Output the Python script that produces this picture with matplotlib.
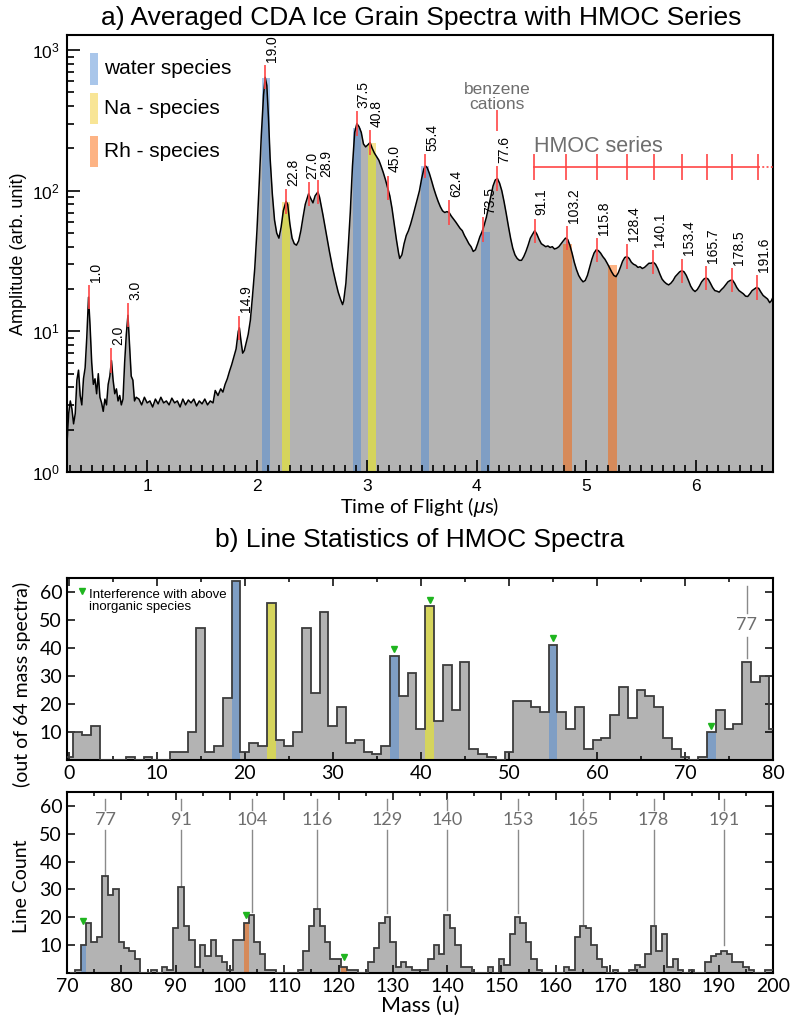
import numpy as np
import matplotlib
matplotlib.use("Agg")
import matplotlib.pyplot as plt
from matplotlib.patches import Rectangle
from matplotlib.ticker import MultipleLocator, FixedLocator, LogLocator, NullFormatter

plt.rcParams['font.family'] = ['Liberation Sans', 'DejaVu Sans']
plt.rcParams['mathtext.fontset'] = 'custom'
plt.rcParams['mathtext.rm'] = 'Liberation Sans'
plt.rcParams['mathtext.it'] = 'Liberation Sans:italic'

# ---------------- panel a: averaged spectrum ----------------
tof = [
    0.27, 0.285, 0.30, 0.315, 0.33, 0.345, 0.36, 0.375, 0.39, 0.405,
    0.42, 0.435, 0.45, 0.466, 0.48, 0.495, 0.51, 0.525, 0.54, 0.555,
    0.57, 0.585, 0.60, 0.615, 0.63, 0.645, 0.66, 0.675, 0.69, 0.705,
    0.72, 0.735, 0.75, 0.765, 0.78, 0.795, 0.81, 0.825, 0.84, 0.855,
    0.87, 0.885, 0.90,
    0.925, 0.95, 0.975, 1.00, 1.025, 1.05, 1.075, 1.10, 1.125, 1.15,
    1.175, 1.20, 1.225, 1.25, 1.275, 1.30, 1.325, 1.35, 1.375, 1.40,
    1.425, 1.45, 1.475, 1.50, 1.525, 1.55, 1.575, 1.60,
    1.62, 1.645, 1.67, 1.69, 1.71, 1.73, 1.75, 1.77, 1.79, 1.81,
    1.83, 1.84, 1.855, 1.87, 1.885, 1.90, 1.92, 1.94, 1.96, 1.98,
    2.00, 2.02, 2.04, 2.06, 2.075, 2.09, 2.105, 2.12, 2.14, 2.16,
    2.18, 2.20, 2.22, 2.24, 2.265, 2.28, 2.30, 2.32, 2.34, 2.36,
    2.38, 2.40, 2.42, 2.44, 2.47, 2.49, 2.51, 2.53, 2.555, 2.57,
    2.60, 2.63, 2.66, 2.69, 2.72, 2.74, 2.76, 2.78, 2.79, 2.81,
    2.83, 2.85, 2.87, 2.89, 2.91, 2.93, 2.95, 2.97, 2.99, 3.01,
    3.03, 3.05, 3.07, 3.09, 3.11, 3.13, 3.15, 3.17, 3.19, 3.21,
    3.23, 3.25, 3.27, 3.29, 3.30, 3.32, 3.34, 3.36, 3.38, 3.40,
    3.42, 3.44, 3.46, 3.48, 3.50, 3.52, 3.535, 3.55, 3.57, 3.59,
    3.61, 3.63, 3.65, 3.67, 3.69, 3.71, 3.73, 3.75, 3.77, 3.79,
    3.81, 3.83, 3.85, 3.87, 3.89, 3.91, 3.93, 3.95, 3.97, 3.99,
    4.01, 4.03, 4.05, 4.07, 4.09, 4.11, 4.13, 4.15, 4.17, 4.19,
    4.21, 4.23, 4.25, 4.27, 4.29, 4.31, 4.33, 4.35, 4.37, 4.39,
    4.41, 4.43, 4.45, 4.47, 4.49, 4.51, 4.53, 4.55, 4.57, 4.59,
    4.61, 4.63, 4.65, 4.67, 4.69, 4.71, 4.73, 4.75, 4.77, 4.79,
    4.81, 4.83, 4.85, 4.87, 4.89, 4.91, 4.93, 4.95, 4.97, 4.99,
    5.01, 5.03, 5.05, 5.07, 5.09, 5.11, 5.13, 5.15, 5.17, 5.19,
    5.21, 5.23, 5.25, 5.27, 5.29, 5.31, 5.33, 5.35, 5.37, 5.39,
    5.41, 5.43, 5.45, 5.47, 5.49, 5.51, 5.53, 5.55, 5.57, 5.59,
    5.61, 5.63, 5.65, 5.67, 5.69, 5.71, 5.73, 5.75, 5.77, 5.79,
    5.81, 5.83, 5.85, 5.87, 5.89, 5.91, 5.93, 5.95, 5.97, 5.99,
    6.01, 6.03, 6.05, 6.07, 6.09, 6.11, 6.13, 6.15, 6.17, 6.19,
    6.21, 6.23, 6.25, 6.27, 6.29, 6.31, 6.33, 6.35, 6.37, 6.39,
    6.41, 6.43, 6.45, 6.47, 6.49, 6.51, 6.53, 6.55, 6.57, 6.59,
    6.61, 6.63, 6.65, 6.67, 6.685, 6.70,
]
amp = [
    1.6, 2.6, 3.2, 2.8, 2.2, 2.6, 4.5, 5.3, 3.5, 3.0,
    4.6, 5.5, 9.0, 17.5, 11.0, 6.0, 4.2, 4.6, 3.6, 5.0,
    3.4, 3.1, 2.7, 3.3, 3.0, 4.2, 4.8, 6.2, 4.5, 3.6,
    3.9, 3.2, 3.5, 3.0, 3.3, 6.0, 9.5, 13.0, 8.0, 4.8,
    4.5, 3.2, 3.4,
    3.3, 3.0, 3.4, 3.1, 3.2, 2.9, 3.3, 3.05, 3.4, 3.1,
    3.2, 3.0, 3.35, 3.1, 3.2, 2.9, 3.3, 3.0, 3.25, 3.1,
    3.3, 2.95, 3.2, 3.05, 3.3, 3.0, 3.2, 3.1,
    3.8, 3.5, 3.9, 3.7, 4.2, 4.6, 5.2, 5.8, 6.6, 7.5,
    10.0, 10.6, 8.5, 7.0, 7.3, 8.2, 9.5, 12.0, 18.0, 28.0,
    52, 110, 250, 480, 640, 560, 330, 170, 95, 62,
    50, 46, 55, 72, 84, 80, 58, 46, 42, 41,
    44, 52, 65, 80, 95, 88, 82, 92, 98, 90,
    68, 50, 37, 28, 22, 19, 17, 15.5, 16.5, 22,
    38, 70, 150, 260, 300, 285, 260, 215, 205, 212,
    220, 200, 185, 175, 165, 150, 135, 120, 105, 92,
    75, 58, 45, 36, 33, 35, 42, 48, 52, 58,
    66, 76, 87, 100, 122, 143, 150, 146, 133, 118,
    104, 93, 84, 77, 72, 70, 71, 70, 66, 63,
    60, 57, 54, 52, 48, 45, 42, 40, 37, 38,
    42, 47, 51, 57, 65, 77, 92, 108, 119, 122,
    113, 100, 84, 69, 56, 46, 39, 35, 33, 32,
    32, 34, 37, 41, 46, 49, 52, 49, 45, 42,
    41, 40, 40.5, 39.5, 40, 38.5, 39, 40, 42, 44,
    46, 45, 41, 36, 31, 27.5, 25, 23.5, 22.5, 23,
    25, 28.5, 32.5, 36, 38, 37.5, 36, 34, 32.5, 30.5,
    28.5, 26.5, 25, 24.5, 26, 28.5, 31.5, 33.5, 34, 33,
    31, 30, 29.5, 28.5, 28.8, 28, 28.5, 29.5, 30.5, 30.5,
    31, 30, 28, 25.5, 23.5, 22.5, 21.8, 21.4, 22, 23,
    24.5, 25.5, 26.5, 27, 26.5, 25, 23, 21, 19.8, 19.2,
    19.8, 21, 22.5, 23.5, 24, 23.5, 22, 20.5, 19.5, 19.3,
    19, 19.8, 20.5, 21.5, 22.5, 23, 23.2, 22, 20.5, 19.5,
    19, 18.5, 17.8, 17.7, 18.5, 19.5, 20, 20.5, 20.2, 19,
    18, 17.5, 17, 16, 16.5, 17.5,
]

peak_labels = ["1.0", "2.0", "3.0", "14.9", "19.0", "22.8", "27.0", "28.9", "37.5",
               "40.8", "45.0", "55.4", "62.4", "73.5", "77.6", "91.1", "103.2",
               "115.8", "128.4", "140.1", "153.4", "165.7", "178.5", "191.6"]
peak_tof = [0.466, 0.675, 0.825, 1.84, 2.075, 2.265, 2.47, 2.555, 2.91,
            3.03, 3.19, 3.535, 3.75, 4.06, 4.19, 4.53, 4.82,
            5.10, 5.37, 5.61, 5.87, 6.09, 6.33, 6.55]
peak_amp = [17.5, 6.2, 13.0, 10.6, 640, 84, 95, 98, 300,
            220, 105, 150, 70, 53, 122, 52, 46,
            38, 34, 31, 27, 24, 23.2, 20.5]

# species bands: left edge in TOF and top amplitude
water_start = [2.043, 2.875, 3.49, 4.043]
water_top = [630, 280, 150, 51]
na_start = [2.23, 3.012]
na_top = [83, 219]
rh_start = [4.79, 5.20]
rh_top = [42, 29.5]
band_width = 0.075

hmoc_tof = [4.527, 4.818, 5.10, 5.373, 5.618, 5.873, 6.10, 6.327, 6.564]
hmoc_level = 147.6
benzene_tof = 4.19

# ---------------- panel b: line statistics histograms ----------------
mass_top = list(range(0, 81))
count_top = [1, 10, 9, 12, 0, 0, 0, 1, 0, 1,
             0, 0, 3, 3, 10, 47, 3, 5, 22, 64,
             3, 6, 5, 56, 7, 5, 10, 47, 24, 53,
             12, 19, 6, 7, 3, 2, 5, 37, 23, 31,
             11, 55, 14, 34, 18, 35, 4, 2, 1, 0,
             3, 21, 21, 19, 17, 41, 17, 11, 19, 4,
             7, 8, 16, 26, 15, 25, 23, 19, 8, 4,
             1, 0, 1, 10, 18, 11, 13, 35, 28, 30,
             11]

mass_bot = list(range(71, 201))
count_bot = [0, 1, 10, 18, 11, 13, 35, 28, 30, 11,
             9, 8, 5, 0, 0, 1, 0, 2, 1, 16,
             31, 17, 12, 2, 10, 6, 12, 6, 4, 1,
             12, 12, 18, 21, 11, 7, 1, 1, 0, 0,
             0, 0, 1, 8, 17, 23, 17, 11, 5, 5,
             2, 1, 1, 0, 0, 4, 9, 18, 20, 11,
             2, 4, 2, 1, 1, 1, 5, 10, 7, 21,
             16, 10, 2, 2, 0, 0, 0, 2, 0, 5,
             3, 14, 20, 18, 11, 5, 1, 0, 0, 0,
             0, 2, 1, 13, 17, 16, 10, 5, 2, 0,
             1, 0, 0, 1, 3, 2, 7, 17, 8, 14,
             2, 5, 1, 0, 1, 0, 0, 4, 6, 7,
             8, 7, 4, 4, 2, 1, 0, 0, 1, 1]

water_mass_top = [19, 37, 55, 73]
na_mass_top = [23, 41]
water_mass_bot = [73]
rh_mass_bot = [103, 121]

interf_mass_top = [37, 41, 55, 73]
interf_y_top = [39.5, 57, 43.5, 12.3]
interf_mass_bot = [73, 103, 121]
interf_y_bot = [18.5, 21, 5.6]

series_mass = [77, 91, 104, 116, 129, 140, 153, 165, 178, 191]
series_line_end = [35, 31, 22, 23.5, 21.5, 22.5, 21.5, 17.5, 17.5, 10]

blue_light, blue_dark = '#a9c6ea', '#7f9ec4'
yel_light, yel_dark = '#f8e596', '#d5d45c'
rh_light, rh_dark = '#fdb384', '#d68a5a'
gray_fill = '#b3b3b3'
red = '#ff4444'
label_gray = '#6e6e6e'
humanist = ['Lato', 'DejaVu Sans']

fig = plt.figure(figsize=(8, 10.29), dpi=100)
W, H = 800.0, 1029.0
ax_a = fig.add_axes([67 / W, 1 - 472 / H, 706 / W, 437 / H])
ax_b1 = fig.add_axes([67 / W, 1 - 760 / H, 706 / W, 182 / H])
ax_b2 = fig.add_axes([67 / W, 1 - 973 / H, 706 / W, 181 / H])

# ---- panel a ----
ax_a.set_yscale('log')
ax_a.set_xlim(0.27, 6.70)
ax_a.set_ylim(1, 1280)
t_arr = np.array(tof)
a_arr = np.array(amp)
spec = ax_a.fill_between(t_arr, a_arr, 1e-3, color=gray_fill, lw=0, zorder=1)
spec_path = spec.get_paths()[0]

for starts, tops, light, dark in [(water_start, water_top, blue_light, blue_dark),
                                  (na_start, na_top, yel_light, yel_dark),
                                  (rh_start, rh_top, rh_light, rh_dark)]:
    for t0, top in zip(starts, tops):
        ax_a.add_patch(Rectangle((t0, 1e-3), band_width, top, color=light, lw=0, zorder=0.5))
        r = Rectangle((t0, 1e-3), band_width, top, color=dark, lw=0, zorder=1.5)
        ax_a.add_patch(r)
        r.set_clip_path(spec_path, ax_a.transData)

ax_a.plot(t_arr, a_arr, color='black', lw=1.1, zorder=3)

# small sideways nudges where two labels sit on top of each other
label_dx = {"27.0": -2.5, "28.9": 1.0}
for lbl, t, a in zip(peak_labels, peak_tof, peak_amp):
    ax_a.plot([t, t], [a / 1.2, a * 1.2], color=red, lw=1.4, alpha=0.85, zorder=4)
    ax_a.annotate(lbl, (t, a * 1.2), xytext=(label_dx.get(lbl, 0), 3), textcoords='offset points',
                  rotation=90, ha='left', va='bottom', fontsize=10, zorder=5)

# benzene cations marker
ax_a.plot([benzene_tof, benzene_tof], [272, 369], color=red, lw=1.4, alpha=0.85, zorder=4)
ax_a.text(benzene_tof, 465, "benzene\ncations", ha='center', va='center', fontsize=12.5,
          color=label_gray, linespacing=0.95)

# HMOC series ruler
ax_a.plot([hmoc_tof[0], hmoc_tof[-1]], [hmoc_level, hmoc_level], color=red, lw=1.4, alpha=0.85, zorder=4)
ax_a.plot([hmoc_tof[-1], 6.70], [hmoc_level, hmoc_level], color=red, lw=1.4, alpha=0.85,
          ls=(0, (1, 1.2)), zorder=4)
for t in hmoc_tof:
    ax_a.plot([t, t], [hmoc_level / 1.215, hmoc_level * 1.215], color=red, lw=1.4, alpha=0.85, zorder=4)
ax_a.text(hmoc_tof[0], 207, "HMOC series", ha='left', va='center', fontsize=15.5, color=label_gray)

# species key
for (y0, y1, col, txt) in [(0.886, 0.959, blue_light, "water species"),
                           (0.796, 0.867, yel_light, "Na - species"),
                           (0.698, 0.769, rh_light, "Rh - species")]:
    ax_a.add_patch(Rectangle((0.0326, y0), 0.0115, y1 - y0, transform=ax_a.transAxes,
                             color=col, lw=0, zorder=6))
    ax_a.text(0.052, (y0 + y1) / 2, txt, transform=ax_a.transAxes, ha='left', va='center',
              fontsize=15, zorder=6)

ax_a.xaxis.set_major_locator(MultipleLocator(1))
ax_a.xaxis.set_minor_locator(MultipleLocator(0.1))
ax_a.yaxis.set_major_locator(LogLocator(base=10, numticks=10))
ax_a.yaxis.set_minor_locator(LogLocator(base=10, subs=np.arange(2, 10), numticks=20))
ax_a.yaxis.set_minor_formatter(NullFormatter())
ax_a.tick_params(which='both', direction='in', top=False, right=False, labelsize=12.5, width=1.2)
ax_a.tick_params(which='major', length=9, pad=5)
ax_a.tick_params(which='minor', length=5)
for s in ax_a.spines.values():
    s.set_linewidth(1.5)
ax_a.set_ylabel("Amplitude (arb. unit)", fontsize=13, labelpad=4)
ax_a.set_xlabel("Time of Flight ($\\mathit{\\mu}$s)", fontsize=14.5, family=humanist, labelpad=1)

fig.text(0.526, 1 - 18 / H, "a) Averaged CDA Ice Grain Spectra with HMOC Series",
         ha='center', va='center', fontsize=19)
fig.text(0.524, 1 - 540 / H, "b) Line Statistics of HMOC Spectra",
         ha='center', va='center', fontsize=19)


# ---- panel b ----
def draw_hist(ax, masses, counts, colored):
    edges = np.append(np.array(masses) - 0.5, masses[-1] + 0.5)
    ax.stairs(counts, edges, fill=True, color=gray_fill, zorder=1)
    lookup = dict(zip(masses, counts))
    for mlist, col in colored:
        ax.bar(mlist, [lookup[m] for m in mlist], width=1.0, color=col, lw=0, zorder=2)
    ax.stairs(counts, edges, color='#3c3c3c', lw=1.3, zorder=3)


draw_hist(ax_b1, mass_top, count_top, [(water_mass_top, blue_dark), (na_mass_top, yel_dark)])
draw_hist(ax_b2, mass_bot, count_bot, [(water_mass_bot, blue_dark), (rh_mass_bot, rh_dark)])

ax_b1.plot(interf_mass_top, interf_y_top, 'v', color='#1fb51f', ms=5, zorder=4)
ax_b2.plot(interf_mass_bot, interf_y_bot, 'v', color='#1fb51f', ms=5, zorder=4)
ax_b1.plot([1.5], [60.3], 'v', color='#1fb51f', ms=5, zorder=4)
ax_b1.text(2.3, 61.0, "Interference with above\ninorganic species", fontsize=9.5,
           ha='left', va='top', linespacing=1.0)

# benzene label in the upper histogram
ax_b1.plot([77, 77], [62, 52.5], color='#8a8a8a', lw=1)
ax_b1.plot([77, 77], [44, 36.3], color='#8a8a8a', lw=1)
ax_b1.text(77, 48.2, "77", ha='center', va='center', fontsize=13, color=label_gray, family=humanist)

for m, end in zip(series_mass, series_line_end):
    ax_b2.plot([m, m], [62.5, 58.5], color='#8a8a8a', lw=1)
    ax_b2.plot([m, m], [51.5, end], color='#8a8a8a', lw=1)
    ax_b2.text(m, 54.8, str(m), ha='center', va='center', fontsize=13, color=label_gray,
               family=humanist)

ax_b1.set_xlim(-0.2, 80)
ax_b2.set_xlim(70, 200)
for ax in (ax_b1, ax_b2):
    ax.set_ylim(0, 65)
    ax.yaxis.set_major_locator(FixedLocator([10, 20, 30, 40, 50, 60]))
    ax.xaxis.set_major_locator(MultipleLocator(10))
    ax.xaxis.set_minor_locator(MultipleLocator(5))
    ax.tick_params(which='both', direction='in', top=True, right=True, width=1.1)
    ax.tick_params(which='major', length=6, labelsize=14)
    ax.tick_params(which='minor', length=3)
    for lab in ax.get_xticklabels() + ax.get_yticklabels():
        lab.set_family(humanist)
    for s in ax.spines.values():
        s.set_linewidth(1.5)

ax_b2.set_xlabel("Mass (u)", fontsize=15.5, family=humanist, labelpad=1)
fig.text(22 / W, 1 - 684 / H, "(out of 64 mass spectra)", rotation=90, ha='center', va='center',
         fontsize=14, family=humanist)
fig.text(22 / W, 1 - 886 / H, "Line Count", rotation=90, ha='center', va='center',
         fontsize=14, family=humanist)

fig.savefig("out.png", dpi=100)
